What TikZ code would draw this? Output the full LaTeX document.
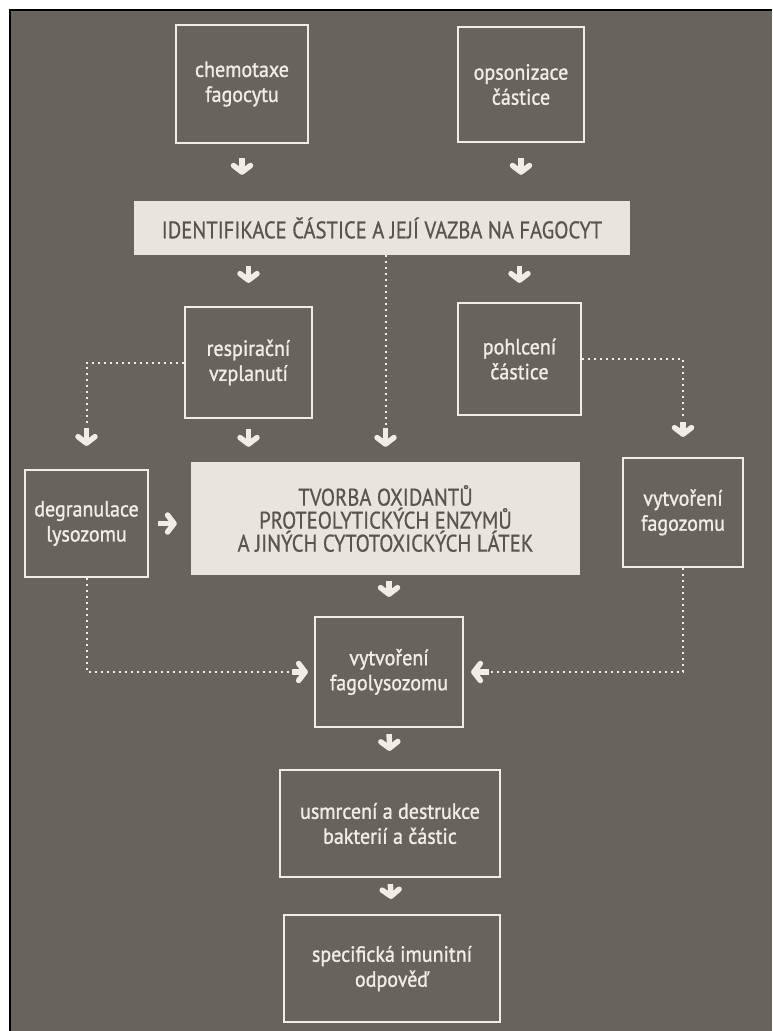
\documentclass[tikz,border=0pt]{standalone}
\usepackage{fontspec}
\setmainfont{PT Sans}
\newfontfamily\boxfont[FakeStretch=0.91,FakeBold=1.2]{PT Sans}
\newfontfamily\barfont[FakeStretch=0.86,FakeBold=0.6]{PT Sans}
\usetikzlibrary{arrows.meta}
\definecolor{paper}{RGB}{104,99,92}
\definecolor{chalk}{RGB}{240,237,230}
\definecolor{band}{RGB}{233,229,221}
\definecolor{ink}{RGB}{88,84,78}
\tikzset{
  box/.style={draw=chalk, line width=2.2pt, text=chalk, align=center, inner sep=0pt,
    font=\boxfont\fontsize{22}{25}\selectfont},
  bar/.style={fill=band, text=ink, align=center, inner sep=0pt,
    font=\barfont\fontsize{24}{23}\selectfont},
  go/.style={draw=chalk, line width=5.5pt, -{Straight Barb[length=6.5pt,width=17pt,round]}},
  dots/.style={draw=chalk, line width=2pt, dash pattern=on 2pt off 4pt}
}
\begin{document}
\begin{tikzpicture}[x=1pt,y=-1pt]
\useasboundingbox (0,0) rectangle (772,1031);
\fill[white] (0,0) rectangle (772,1031);
\fill[paper] (10,10) rectangle (772,1031);
\draw[black, line width=2pt] (10,1031) -- (10,10) -- (772,10);

\node (chemo) [box, minimum width=132, minimum height=118] at (242,84) {chemotaxe\\fagocytu};
\node (opson) [box, minimum width=126, minimum height=115] at (521,84.5) {opsonizace\\částice};
\node (ident) [bar, minimum width=496, minimum height=54] at (382,228)
  {IDENTIFIKACE ČÁSTICE A JEJÍ VAZBA NA FAGOCYT};
\node (resp) [box, minimum width=127, minimum height=111] at (248.5,362.5) {respirační\\vzplanutí};
\node (pohl) [box, minimum width=123, minimum height=112] at (519.5,359) {pohlcení\\částice};
\node (degr) [box, minimum width=123, minimum height=107] at (86.5,523.5) {degranulace\\lysozomu};
\node (tvorba) [bar, minimum width=389, minimum height=113] at (385.5,518.5)
  {TVORBA OXIDANTŮ\\PROTEOLYTICKÝCH ENZYMŮ\\A JINÝCH CYTOTOXICKÝCH LÁTEK};
\node (fagoz) [box, minimum width=120, minimum height=109] at (683,512.5) {vytvoření\\fagozomu};
\node (fagol) [box, minimum width=148, minimum height=110] at (389,672) {vytvoření\\fagolysozomu};
\node (usmr) [box, minimum width=220, minimum height=107] at (390,823.5) {usmrcení a destrukce\\bakterií a částic};
\node (spec) [box, minimum width=216, minimum height=107] at (392,968.5) {specifická imunitní\\odpověď};

\draw[go, shorten <=14pt, shorten >=26pt] (chemo.south) -- (chemo.south |- ident.north);
\draw[go, shorten <=15pt, shorten >=26pt] (opson.south) -- (opson.south |- ident.north);
\draw[go, shorten <=11pt, shorten >=23pt] (resp.north |- ident.south) -- (resp.north);
\draw[go, shorten <=11pt, shorten >=19pt] (pohl.north |- ident.south) -- (pohl.north);
\draw[dots, shorten >=37pt] (tvorba.north |- ident.south) -- (tvorba.north);
\draw[go, shorten <=173pt, shorten >=15pt] (tvorba.north |- ident.south) -- (tvorba.north);
\draw[go, shorten <=10pt, shorten >=15pt] (resp.south) -- (resp.south |- tvorba.north);
\draw[dots, shorten >=45pt] (resp.west) -| (degr.north);
\draw[go, shorten <=65pt, shorten >=23pt] (degr.north |- resp.west) -- (degr.north);
\draw[dots, shorten >=40pt] (pohl.east) -| (fagoz.north);
\draw[go, shorten <=63pt, shorten >=20pt] (fagoz.north |- pohl.east) -- (fagoz.north);
\draw[go, shorten <=9pt, shorten >=14pt] (degr.east) -- (degr.east -| tvorba.west);
\draw[go, shorten <=6pt, shorten >=19pt] (fagol.north |- tvorba.south) -- (fagol.north);
\draw[dots, shorten >=25pt] (degr.south) |- (fagol.west);
\draw[go, shorten <=205pt, shorten >=6pt] (degr.south |- fagol.west) -- (fagol.west);
\draw[dots, shorten >=26pt] (fagoz.south) |- (fagol.east);
\draw[go, shorten <=194pt, shorten >=7pt] (fagoz.south |- fagol.east) -- (fagol.east);
\draw[go, shorten <=6pt, shorten >=18pt] (fagol.south) -- (usmr.north);
\draw[go, shorten <=6pt, shorten >=15pt] (usmr.south) -- (spec.north);
\end{tikzpicture}
\end{document}
